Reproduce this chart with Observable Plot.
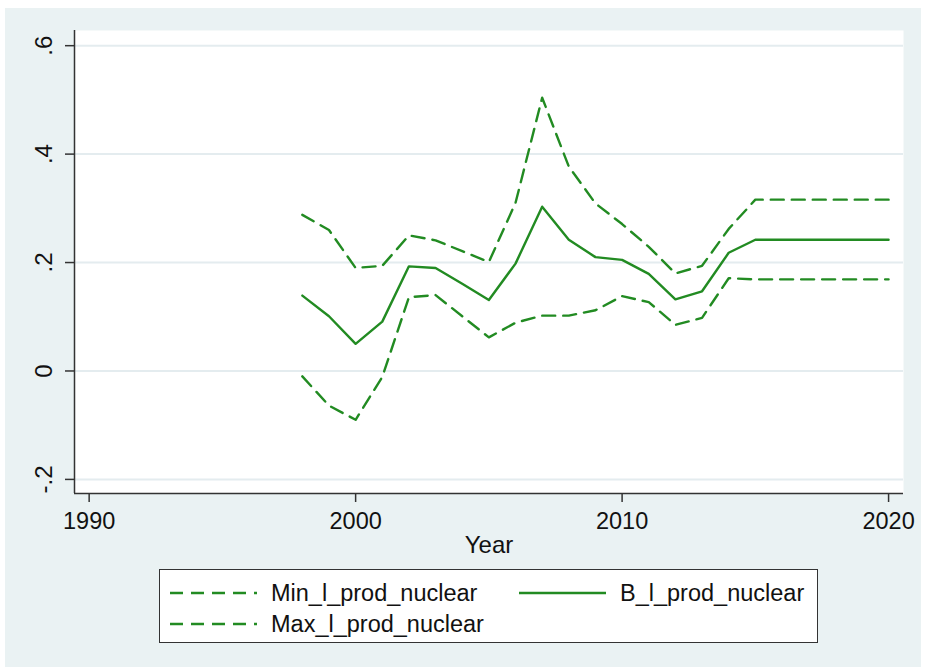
<!DOCTYPE html>
<html>
<head>
<meta charset="utf-8">
<script src="https://cdn.jsdelivr.net/npm/d3@7"></script>
<script src="https://cdn.jsdelivr.net/npm/@observablehq/plot@0.6"></script>
<style>
  html, body { margin: 0; padding: 0; background: #ffffff; }
  body { width: 925px; height: 670px; position: relative; overflow: hidden; font-family: "Liberation Sans", Arial, sans-serif; }
  #bg { position: absolute; left: 5px; top: 8px; width: 916px; height: 659px; background: #eaf2f3; }
  #chart { position: absolute; left: 0; top: 0; }
  #legend { position: absolute; left: 159px; top: 569px; width: 657px; height: 72px; background: #fff; border: 1.5px solid #333; box-sizing: content-box; }
  .item { position: absolute; display: flex; align-items: center; font-size: 23.5px; color: #111; }
  .item svg { margin-right: 14px; }
</style>
</head>
<body>
<div id="bg"></div>
<div id="chart"></div>
<div id="legend"></div>
<script>
const years = [1998,1999,2000,2001,2002,2003,2004,2005,2006,2007,2008,2009,2010,2011,2012,2013,2014,2015,2016,2017,2018,2019,2020];
const bValues   = [0.139,0.101,0.050,0.091,0.193,0.190,0.161,0.131,0.198,0.303,0.242,0.210,0.205,0.179,0.132,0.147,0.218,0.242,0.242,0.242,0.242,0.242,0.242];
const maxValues = [0.288,0.260,0.190,0.194,0.250,0.241,0.221,0.201,0.310,0.504,0.377,0.309,0.271,0.229,0.180,0.194,0.262,0.316,0.316,0.316,0.316,0.316,0.316];
const minValues = [-0.010,-0.064,-0.090,-0.011,0.136,0.140,0.101,0.062,0.089,0.102,0.102,0.112,0.138,0.127,0.085,0.098,0.171,0.169,0.169,0.169,0.169,0.169,0.169];
const xTicks = [1990, 2000, 2010, 2020];
const yTicks = [-0.2, 0, 0.2, 0.4, 0.6];
const yTickLabels = ["-.2", "0", ".2", ".4", ".6"];
const seriesNames = ["Min_l_prod_nuclear", "B_l_prod_nuclear", "Max_l_prod_nuclear"];

const green = "#228b22";
const dash = "13,8";

const toRows = (vals, name) => years.map((y, i) => ({year: y, value: vals[i], series: name}));
const minRows = toRows(minValues, seriesNames[0]);
const bRows = toRows(bValues, seriesNames[1]);
const maxRows = toRows(maxValues, seriesNames[2]);
const yLabelRows = yTicks.map((v, i) => ({v, t: yTickLabels[i]}));

const xDomain = [1989.45, 2020.56];
const yDomain = [-0.226, 0.628];

const plot = Plot.plot({
  width: 925,
  height: 560,
  marginLeft: 74,
  marginRight: 22,
  marginTop: 30,
  marginBottom: 67,
  style: {background: "transparent", fontFamily: "'Liberation Sans', Arial, sans-serif", color: "#111"},
  x: {domain: xDomain},
  y: {domain: yDomain},
  marks: [
    Plot.frame({fill: "#ffffff", stroke: null}),
    Plot.gridY(yTicks, {stroke: "#e4ecef", strokeOpacity: 1, strokeWidth: 2}),
    Plot.axisX({ticks: xTicks, tickSize: 9, tickPadding: 10, fontSize: 23.5, tickFormat: d => String(d), label: null, stroke: "#333", strokeWidth: 1.5, fill: "#111"}),
    Plot.axisY({ticks: yTicks, tickSize: 9, tickFormat: () => "", label: null, stroke: "#333", strokeWidth: 1.5}),
    Plot.text(yLabelRows, {x: xDomain[0], y: "v", text: "t", rotate: -90, dx: -23, textAnchor: "middle", lineAnchor: "bottom", fontSize: 24, fill: "#111"}),
    Plot.ruleX([xDomain[0]], {stroke: "#333", strokeWidth: 1.5}),
    Plot.ruleY([yDomain[0]], {stroke: "#333", strokeWidth: 1.5}),
    Plot.text(["Year"], {frameAnchor: "bottom", dy: 59, text: d => d, fontSize: 24, lineAnchor: "bottom", fill: "#111"}),
    Plot.line(minRows, {x: "year", y: "value", stroke: green, strokeWidth: 2.4, strokeDasharray: dash}),
    Plot.line(maxRows, {x: "year", y: "value", stroke: green, strokeWidth: 2.4, strokeDasharray: dash}),
    Plot.line(bRows, {x: "year", y: "value", stroke: green, strokeWidth: 2.4})
  ]
});
document.getElementById("chart").appendChild(plot);

// Legend
const legend = document.getElementById("legend");
const items = [
  {name: seriesNames[0], dashed: true, left: 10, top: 23},
  {name: seriesNames[1], dashed: false, left: 359, top: 23},
  {name: seriesNames[2], dashed: true, left: 10, top: 54}
];
for (const it of items) {
  const div = document.createElement("div");
  div.className = "item";
  div.style.left = it.left + "px";
  div.style.top = (it.top - 15) + "px";
  div.style.height = "30px";
  div.innerHTML = `<svg width="87" height="6"><line x1="0" y1="3" x2="87" y2="3" stroke="${green}" stroke-width="2.4" ${it.dashed ? `stroke-dasharray="${dash}"` : ""}/></svg><span>${it.name}</span>`;
  legend.appendChild(div);
}
</script>
</body>
</html>
